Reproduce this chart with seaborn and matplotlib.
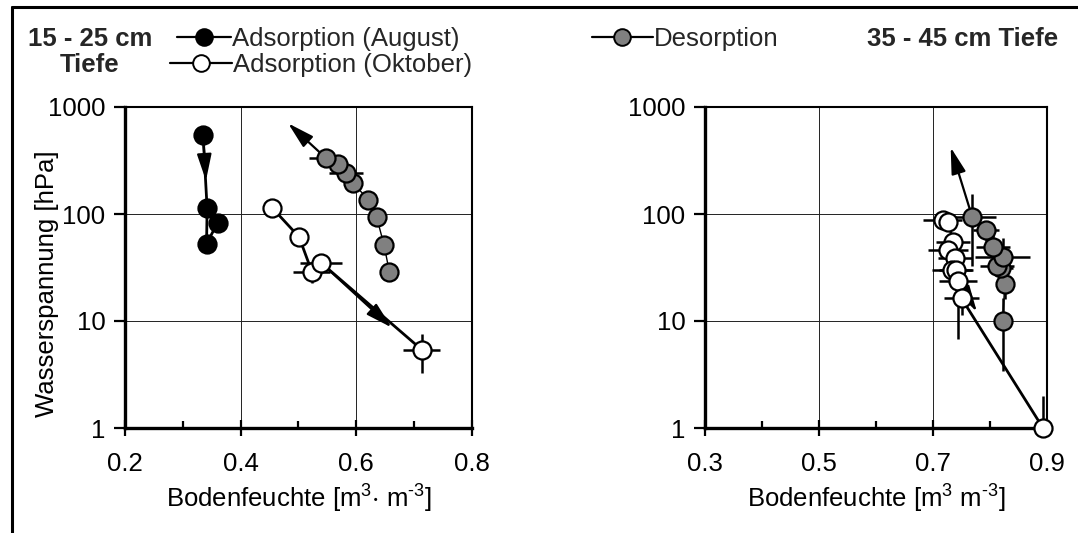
import matplotlib
matplotlib.use("Agg")
import numpy as np
import pandas as pd
import matplotlib.pyplot as plt
import seaborn as sns
from matplotlib.lines import Line2D
from matplotlib.ticker import FixedLocator, FixedFormatter, NullLocator

# ---------------- data ----------------
# Left panel: 15 - 25 cm Tiefe
aug_x = [0.335, 0.342, 0.341, 0.360]
aug_y = [547, 113, 53, 82]

okt_l_x = [0.454, 0.501, 0.523, 0.539, 0.713]
okt_l_y = [115, 61, 29, 35, 5.4]
okt_l_xerr = [0.0, 0.0, 0.032, 0.036, 0.032]
okt_l_yerr = [0.0, 0.0, 6.5, 5.0, 2.1]

des_l_x = [0.657, 0.648, 0.635, 0.621, 0.595, 0.582, 0.569, 0.548]
des_l_y = [29, 51, 94, 135, 194, 240, 293, 331]
des_l_xerr = [0, 0, 0, 0, 0, 0.03, 0, 0.03]
des_l_yerr = [0, 0, 0, 0, 0, 0, 0, 0]

# Right panel: 35 - 45 cm Tiefe
okt_r_x = [0.717, 0.727, 0.735, 0.727, 0.739, 0.733, 0.740, 0.744, 0.750, 0.893]
okt_r_y = [88, 85, 55, 46, 38.5, 30, 30, 23.8, 16.3, 1.0]
okt_r_xerr = [0.034, 0.0, 0.03, 0.035, 0.03, 0.035, 0.03, 0.033, 0.03, 0.0]
okt_r_yerr = [5, 0, 5, 5, 5, 5, 5, 17, 5, 0.99]

des_r_x = [0.822, 0.826, 0.820, 0.812, 0.822, 0.805, 0.793, 0.769]
des_r_y = [9.9, 22, 31, 33, 40, 49, 71, 93]
des_r_xerr = [0, 0, 0.02, 0.03, 0.048, 0.03, 0.023, 0.041]
des_r_yerr = [6.5, 6, 5, 5, 20, 14, 15, 60]

# arrow tips (annotation targets), tails are data points
aug_tip = (0.340, 205)
okt_l_tip = (0.661, 8.7)
des_l_tip = (0.482, 704)
des_r_tip = (0.731, 420)
okt_r_tip = (0.777, 12.2)

y_ticks = [1, 10, 100, 1000]
y_labels = ["1", "10", "100", "1000"]
xl_major = [0.2, 0.4, 0.6, 0.8]
xl_minor = [0.3, 0.5, 0.7]
xr_major = [0.3, 0.5, 0.7, 0.9]
xr_minor = [0.4, 0.6, 0.8]

labels = ["Adsorption (August)", "Adsorption (Oktober)", "Desorption"]
GREY = "#808080"
HY = "\u2010"  # hyphen used in the unit exponent

# ---------------- styling ----------------
sns.set_theme(style="white")
plt.rcParams["font.family"] = ["Liberation Sans", "DejaVu Sans"]
plt.rcParams["mathtext.fontset"] = "custom"
plt.rcParams["mathtext.rm"] = "Liberation Sans"
plt.rcParams["mathtext.it"] = "Liberation Sans"
plt.rcParams["mathtext.default"] = "regular"
FS = 18.5

W, H = 1078, 533
fig = plt.figure(figsize=(W / 100, H / 100), dpi=100)
fig.patch.set_facecolor("white")
axL = fig.add_axes([125 / W, (H - 428) / H, 347 / W, 321 / H])
axR = fig.add_axes([705 / W, (H - 428) / H, 342 / W, 321 / H])


def style_axis(ax, xlim, xmajor, xminor, xlabel):
    ax.set_yscale("log")
    ax.set_ylim(1, 1000)
    ax.set_xlim(*xlim)
    ax.set_facecolor("white")
    ax.xaxis.set_major_locator(FixedLocator(xmajor))
    ax.xaxis.set_major_formatter(FixedFormatter([f"{v:.1f}" for v in xmajor]))
    ax.xaxis.set_minor_locator(FixedLocator(xminor))
    ax.yaxis.set_major_locator(FixedLocator(y_ticks))
    ax.yaxis.set_major_formatter(FixedFormatter(y_labels))
    ax.yaxis.set_minor_locator(NullLocator())
    ax.set_axisbelow(True)
    ax.grid(True, which="major", color="#222222", lw=0.7)
    ax.tick_params(axis="x", which="major", direction="inout", length=12, width=1.6,
                   labelsize=FS, pad=11, bottom=True, colors="black")
    ax.tick_params(axis="x", which="minor", direction="in", length=5, width=1.6,
                   bottom=True, colors="black")
    ax.tick_params(axis="y", which="major", direction="out", length=8, width=1.6,
                   labelsize=FS, pad=6, left=True, colors="black")
    for side, lw in (("left", 2.4), ("bottom", 2.4), ("top", 1.5), ("right", 1.5)):
        ax.spines[side].set_visible(True)
        ax.spines[side].set_color("black")
        ax.spines[side].set_linewidth(lw)
    ax.set_xlabel(xlabel, fontsize=FS, color="black", labelpad=5)
    ax.set_ylabel("")


def draw_series(ax, x, y, face, lw, xerr=None, yerr=None, clip=True):
    if xerr is not None:
        ax.errorbar(x, y, xerr=xerr, yerr=yerr, fmt="none", ecolor="black",
                    elinewidth=1.8, capsize=0, zorder=2)
    sns.lineplot(x=x, y=y, ax=ax, sort=False, estimator=None, color="black",
                 lw=lw, marker="o", markersize=13, markerfacecolor=face,
                 markeredgecolor="black", markeredgewidth=1.6, zorder=3,
                 clip_on=clip, legend=False)


def draw_arrow(ax, tail, tip):
    ax.annotate("", xy=tip, xytext=tail, zorder=2.5,
                arrowprops=dict(arrowstyle="-|>,head_length=0.95,head_width=0.26",
                                color="black", lw=1.6, shrinkA=0, shrinkB=0,
                                mutation_scale=17))


style_axis(axL, (0.2, 0.8), xl_major, xl_minor,
           "Bodenfeuchte [m$^{3}$$\\cdot$ m$^{" + HY + "3}$]")
style_axis(axR, (0.3, 0.9), xr_major, xr_minor,
           "Bodenfeuchte [m$^{3}$ m$^{" + HY + "3}$]")

axL.set_ylabel("Wasserspannung [hPa]", fontsize=FS, color="black")
axL.yaxis.set_label_coords(-0.19, 0.45)

# left panel
draw_series(axL, des_l_x, des_l_y, GREY, 1.0, des_l_xerr, des_l_yerr)
draw_series(axL, okt_l_x, okt_l_y, "white", 2.0, okt_l_xerr, okt_l_yerr)
draw_series(axL, aug_x, aug_y, "black", 2.0)
draw_arrow(axL, (aug_x[0], aug_y[0]), aug_tip)
draw_arrow(axL, (okt_l_x[3], okt_l_y[3]), okt_l_tip)
draw_arrow(axL, (des_l_x[-1], des_l_y[-1]), des_l_tip)

# right panel
draw_series(axR, des_r_x, des_r_y, GREY, 1.0, des_r_xerr, des_r_yerr)
draw_series(axR, okt_r_x, okt_r_y, "white", 2.0, okt_r_xerr, okt_r_yerr, clip=False)
draw_arrow(axR, (des_r_x[-1], des_r_y[-1]), des_r_tip)
draw_arrow(axR, (okt_r_x[7], okt_r_y[7]), okt_r_tip)

# legends
faces = ["black", "white", GREY]
pos = [(177, 39, 2.1), (170, 65, 2.4), (592, 39, 2.37)]
for lab, fc, (px, py, hl) in zip(labels, faces, pos):
    h = Line2D([], [], color="black", lw=1.6, marker="o", markersize=12,
               markerfacecolor=fc, markeredgecolor="black", markeredgewidth=1.4)
    fig.legend(handles=[h], labels=[lab], loc="center left",
               bbox_to_anchor=(px / W, 1 - py / H), frameon=False, borderpad=0,
               borderaxespad=0, handlelength=hl, handletextpad=0.05, fontsize=FS)

# panel titles
fig.text(90 / W, 1 - 39 / H, "15 - 25 cm", ha="center", va="center",
         fontweight="bold", fontsize=FS)
fig.text(90 / W, 1 - 65 / H, "Tiefe", ha="center", va="center",
         fontweight="bold", fontsize=FS)
fig.text(963 / W, 1 - 39 / H, "35 - 45 cm Tiefe", ha="center", va="center",
         fontweight="bold", fontsize=FS)

# partial frame (top and left)
fig.add_artist(Line2D([11.5 / W, 1.0], [1 - 6.5 / H, 1 - 6.5 / H],
                      transform=fig.transFigure, color="black", lw=2.2))
fig.add_artist(Line2D([11.5 / W, 11.5 / W], [0.0, 1 - 6.5 / H],
                      transform=fig.transFigure, color="black", lw=2.2))

fig.savefig("out.png", dpi=100, facecolor="white")
